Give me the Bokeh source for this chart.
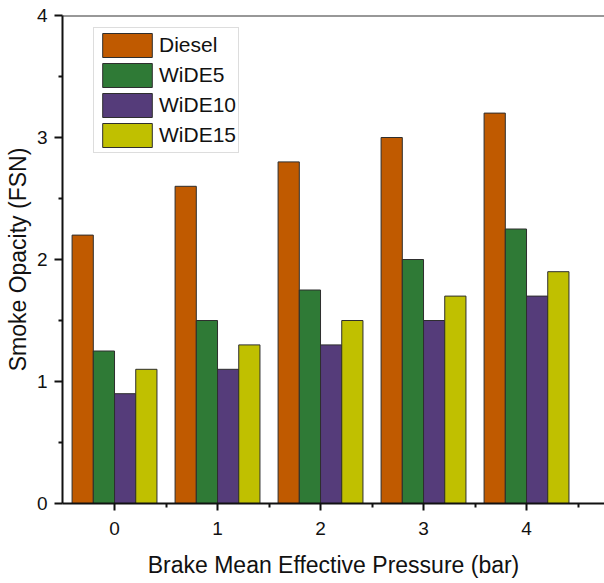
from bokeh.plotting import figure
from bokeh.models import ColumnDataSource, Legend, LegendItem, Span, FixedTicker
from bokeh.transform import dodge
from bokeh.embed import file_html
from bokeh.resources import INLINE

pressure = [0, 1, 2, 3, 4]
diesel = [2.2, 2.6, 2.8, 3.0, 3.2]
wide5 = [1.25, 1.5, 1.75, 2.0, 2.25]
wide10 = [0.9, 1.1, 1.3, 1.5, 1.7]
wide15 = [1.1, 1.3, 1.5, 1.7, 1.9]
series_names = ["Diesel", "WiDE5", "WiDE10", "WiDE15"]
colors = ["#C05A00", "#2F7A36", "#553C7A", "#C0C000"]

source = ColumnDataSource(dict(x=pressure, Diesel=diesel, WiDE5=wide5, WiDE10=wide10, WiDE15=wide15))

FONT = "Liberation Sans"

p = figure(width=604, height=583, x_range=(-0.505, 4.757), y_range=(0, 4),
           output_backend="svg", toolbar_location=None,
           min_border_left=62, min_border_right=0, min_border_top=15, min_border_bottom=80)
p.outline_line_color = None
p.xgrid.grid_line_color = None
p.ygrid.grid_line_color = None

bw = 0.206
offsets = [-1.5 * bw, -0.5 * bw, 0.5 * bw, 1.5 * bw]
renderers = []
for name, col, off in zip(series_names, colors, offsets):
    r = p.vbar(x=dodge("x", off), top=name, width=bw, source=source,
               fill_color=col, line_color="#2e2e2e", line_width=1)
    renderers.append(r)

p.add_layout(Span(location=4, dimension="width", line_color="#333333", line_width=2))

for ax in (p.xaxis[0], p.yaxis[0]):
    ax.axis_line_width = 2
    ax.axis_line_color = "#111111"
    ax.major_tick_line_color = "#111111"
    ax.minor_tick_line_color = "#111111"
    ax.major_tick_line_width = 2
    ax.minor_tick_line_width = 2
    ax.major_tick_in = 0
    ax.minor_tick_in = 0
    ax.major_label_text_font = FONT
    ax.major_label_text_font_size = "19px"
    ax.major_label_text_color = "#111111"
    ax.axis_label_text_font = FONT
    ax.axis_label_text_font_size = "23px"
    ax.axis_label_text_font_style = "normal"
    ax.axis_label_text_color = "#111111"

p.xaxis.ticker = FixedTicker(ticks=[0, 1, 2, 3, 4], minor_ticks=[0.5, 1.5, 2.5, 3.5, 4.5])
p.yaxis.ticker = FixedTicker(ticks=[0, 1, 2, 3, 4], minor_ticks=[0.5, 1.5, 2.5, 3.5])
p.xaxis.major_tick_out = 7
p.xaxis.minor_tick_out = 4
p.yaxis.major_tick_out = 8
p.yaxis.minor_tick_out = 4
p.xaxis.major_label_standoff = 11
p.yaxis.major_label_standoff = 7
p.xaxis.axis_label = "Brake Mean Effective Pressure (bar)"
p.yaxis.axis_label = "Smoke Opacity (FSN)"
p.xaxis.axis_label_standoff = 14
p.yaxis.axis_label_standoff = 3

legend = Legend(items=[LegendItem(label=n, renderers=[r]) for n, r in zip(series_names, renderers)],
                location=(31, 350), glyph_width=62, glyph_height=30, spacing=0,
                padding=2, margin=0, label_standoff=1,
                label_text_font=FONT, label_text_font_size="21px", label_text_color="#111111",
                border_line_color="#bbbbbb", border_line_width=1,
                background_fill_color="white", background_fill_alpha=1.0)
p.add_layout(legend)

open("out.html", "w").write(file_html(p, INLINE))
